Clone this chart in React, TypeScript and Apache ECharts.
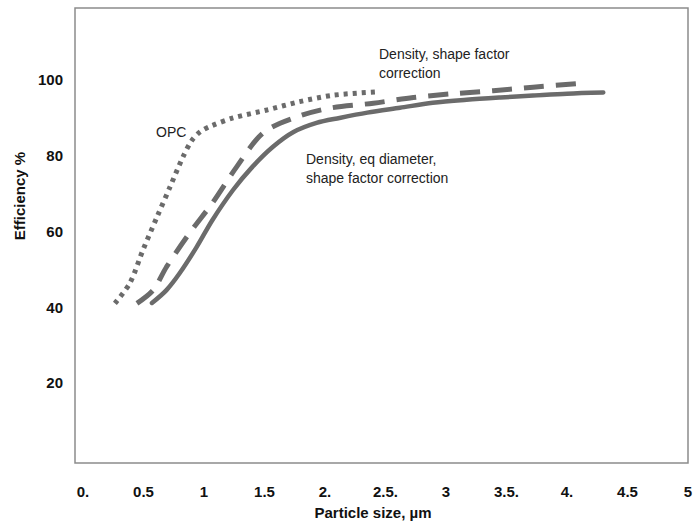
import React, { useEffect, useRef } from "react";
import * as echarts from "echarts";

const xTickValues = [0, 0.5, 1, 1.5, 2, 2.5, 3, 3.5, 4, 4.5, 5];
const xTickLabels = ["0.", "0.5", "1", "1.5", "2.", "2.5.", "3", "3.5.", "4.", "4.5", "5"];
const yTickValues = [20, 40, 60, 80, 100];

const opcX = [0.264, 0.388, 0.496, 0.612, 0.719, 0.826, 0.9, 0.97, 1.06, 1.24, 1.52, 1.79, 2.07, 2.44];
const opcY = [41.0, 46.4, 55.1, 63.8, 71.7, 79.6, 84.0, 86.3, 87.8, 89.9, 92.0, 94.2, 95.9, 96.8];

const shapeX = [0.446, 0.58, 0.69, 0.88, 1.07, 1.27, 1.49, 1.77, 2.04, 2.4, 2.73, 3.06, 3.39, 3.72, 4.13];
const shapeY = [41.0, 44.5, 50.6, 59.5, 67.5, 77.0, 86.0, 90.2, 92.5, 93.8, 95.3, 96.3, 97.1, 98.0, 99.1];

const eqX = [0.57, 0.69, 0.8, 0.94, 1.07, 1.24, 1.4, 1.57, 1.74, 1.93, 2.12, 2.35, 2.62, 2.89, 3.17, 3.45, 3.72, 4.0, 4.3];
const eqY = [41.1, 44.5, 49.0, 55.9, 63.0, 70.9, 77.0, 82.3, 86.2, 88.6, 89.9, 91.3, 92.6, 93.9, 94.7, 95.3, 95.8, 96.3, 96.6];

const zip = (xs: number[], ys: number[]) => xs.map((x, i) => [x, ys[i]]);

const FONT = "'Liberation Sans', Arial, Helvetica, sans-serif";
const LINE = "#6b6b6b";

export default function App() {
  const ref = useRef<HTMLDivElement>(null);
  useEffect(() => {
    if (!ref.current) return;
    const chart = echarts.init(ref.current, null, { renderer: "svg" });
    chart.setOption({
      animation: false,
      backgroundColor: "#ffffff",
      grid: {
        show: true,
        left: 75,
        top: 8,
        right: 12,
        bottom: 61,
        borderColor: "#8c8c8c",
        borderWidth: 1.5,
        backgroundColor: "transparent",
      },
      xAxis: {
        type: "value",
        min: -0.066,
        max: 5.0,
        axisLine: { show: false },
        axisTick: { show: false },
        splitLine: { show: false },
        axisLabel: {
          customValues: xTickValues,
          showMaxLabel: true,
          showMinLabel: true,
          hideOverlap: false,
          formatter: (v: number) => {
            const i = xTickValues.findIndex((t) => Math.abs(t - v) < 1e-6);
            return i >= 0 ? xTickLabels[i] : "";
          },
          margin: 21,
          fontFamily: FONT,
          fontWeight: "bold",
          fontSize: 15,
          color: "#111",
        },
      },
      yAxis: {
        type: "value",
        min: -1.1,
        max: 118.9,
        axisLine: { show: false },
        axisTick: { show: false },
        splitLine: { show: false },
        axisLabel: {
          customValues: yTickValues,
          margin: 12,
          fontFamily: FONT,
          fontWeight: "bold",
          fontSize: 15,
          color: "#111",
        },
      },
      graphic: [
        {
          type: "text",
          x: 19,
          y: 196,
          rotation: Math.PI / 2,
          style: {
            text: "Efficiency %",
            font: `bold 15px ${FONT}`,
            fill: "#111",
            align: "center",
            verticalAlign: "middle",
          },
        },
        {
          type: "text",
          x: 373,
          y: 512,
          style: {
            text: "Particle size, µm",
            font: `bold 15px ${FONT}`,
            fill: "#111",
            align: "center",
            verticalAlign: "middle",
          },
        },
        {
          type: "text",
          x: 156,
          y: 132,
          style: { text: "OPC", font: `14px ${FONT}`, fill: "#222", verticalAlign: "middle" },
        },
        {
          type: "text",
          x: 379,
          y: 44,
          style: {
            text: "Density, shape factor\ncorrection",
            font: `14px ${FONT}`,
            fill: "#222",
            lineHeight: 19,
          },
        },
        {
          type: "text",
          x: 306,
          y: 149,
          style: {
            text: "Density, eq diameter,\nshape factor correction",
            font: `14px ${FONT}`,
            fill: "#222",
            lineHeight: 19,
          },
        },
      ],
      series: [
        {
          name: "OPC",
          type: "line",
          data: zip(opcX, opcY),
          smooth: 0.3,
          showSymbol: false,
          lineStyle: { color: LINE, width: 5, type: [4, 5], cap: "butt" },
        },
        {
          name: "Density, shape factor correction",
          type: "line",
          data: zip(shapeX, shapeY),
          smooth: 0.3,
          showSymbol: false,
          lineStyle: { color: LINE, width: 5, type: [20, 12], cap: "butt" },
        },
        {
          name: "Density, eq diameter, shape factor correction",
          type: "line",
          data: zip(eqX, eqY),
          smooth: 0.3,
          showSymbol: false,
          lineStyle: { color: LINE, width: 4.5, type: "solid", cap: "round" },
        },
      ],
    });
    return () => chart.dispose();
  }, []);
  return (
    <div
      ref={ref}
      style={{ position: "fixed", left: 0, top: 0, width: 700, height: 524, background: "#fff" }}
    />
  );
}
